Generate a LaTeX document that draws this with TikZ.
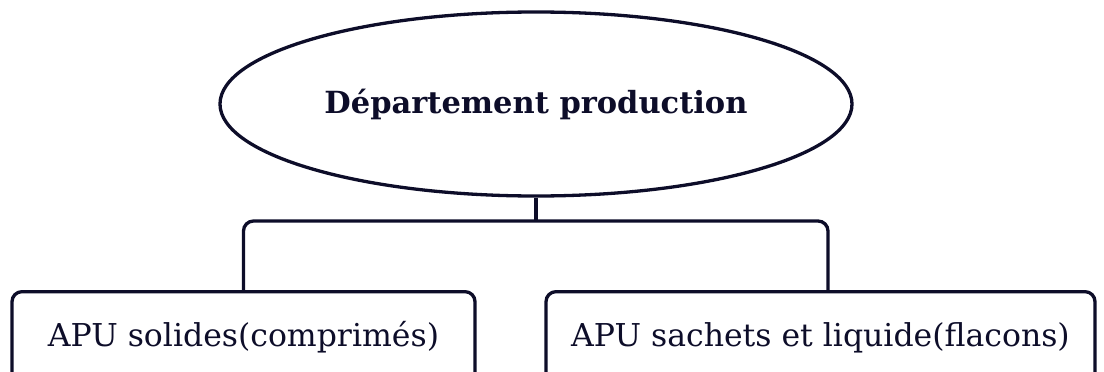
\documentclass[tikz,border=0pt]{standalone}
\usepackage{fontspec}
\setmainfont{DejaVu Serif}
\usetikzlibrary{shapes.geometric}
\definecolor{ink}{rgb}{0.05,0.05,0.16}
\tikzset{
  outline/.style={draw=ink, line width=3.3pt},
  head/.style={outline, ellipse, minimum width=632pt, minimum height=184pt, inner sep=0pt,
    font=\fontsize{30.5}{36}\selectfont\bfseries, text=ink},
  unit/.style={outline, rectangle, rounded corners=10pt, anchor=north, inner xsep=0pt, inner ysep=0pt,
    text height=55pt, text depth=70pt, font=\fontsize{31.5}{37}\selectfont, text=ink},
  link/.style={outline, rounded corners=10pt}
}
\begin{document}
\begin{tikzpicture}[x=1pt, y=-1pt]
  \useasboundingbox (0,0) rectangle (1104,372);
  \clip (0,0) rectangle (1104,372);
  \node[head] (dep) at (536,104) {Département production};
  \node[unit, minimum width=463pt] (sol) at (243.5,290) {APU solides(comprimés)};
  \node[unit, minimum width=549pt] (liq) at (820.5,290) {APU sachets et liquide(flacons)};
  \coordinate (fork) at (536,221);
  \draw[outline] (dep.south) -- (fork);
  \draw[link] (sol.north) |- (fork) -| ([xshift=7.5pt]liq.north);
\end{tikzpicture}
\end{document}
